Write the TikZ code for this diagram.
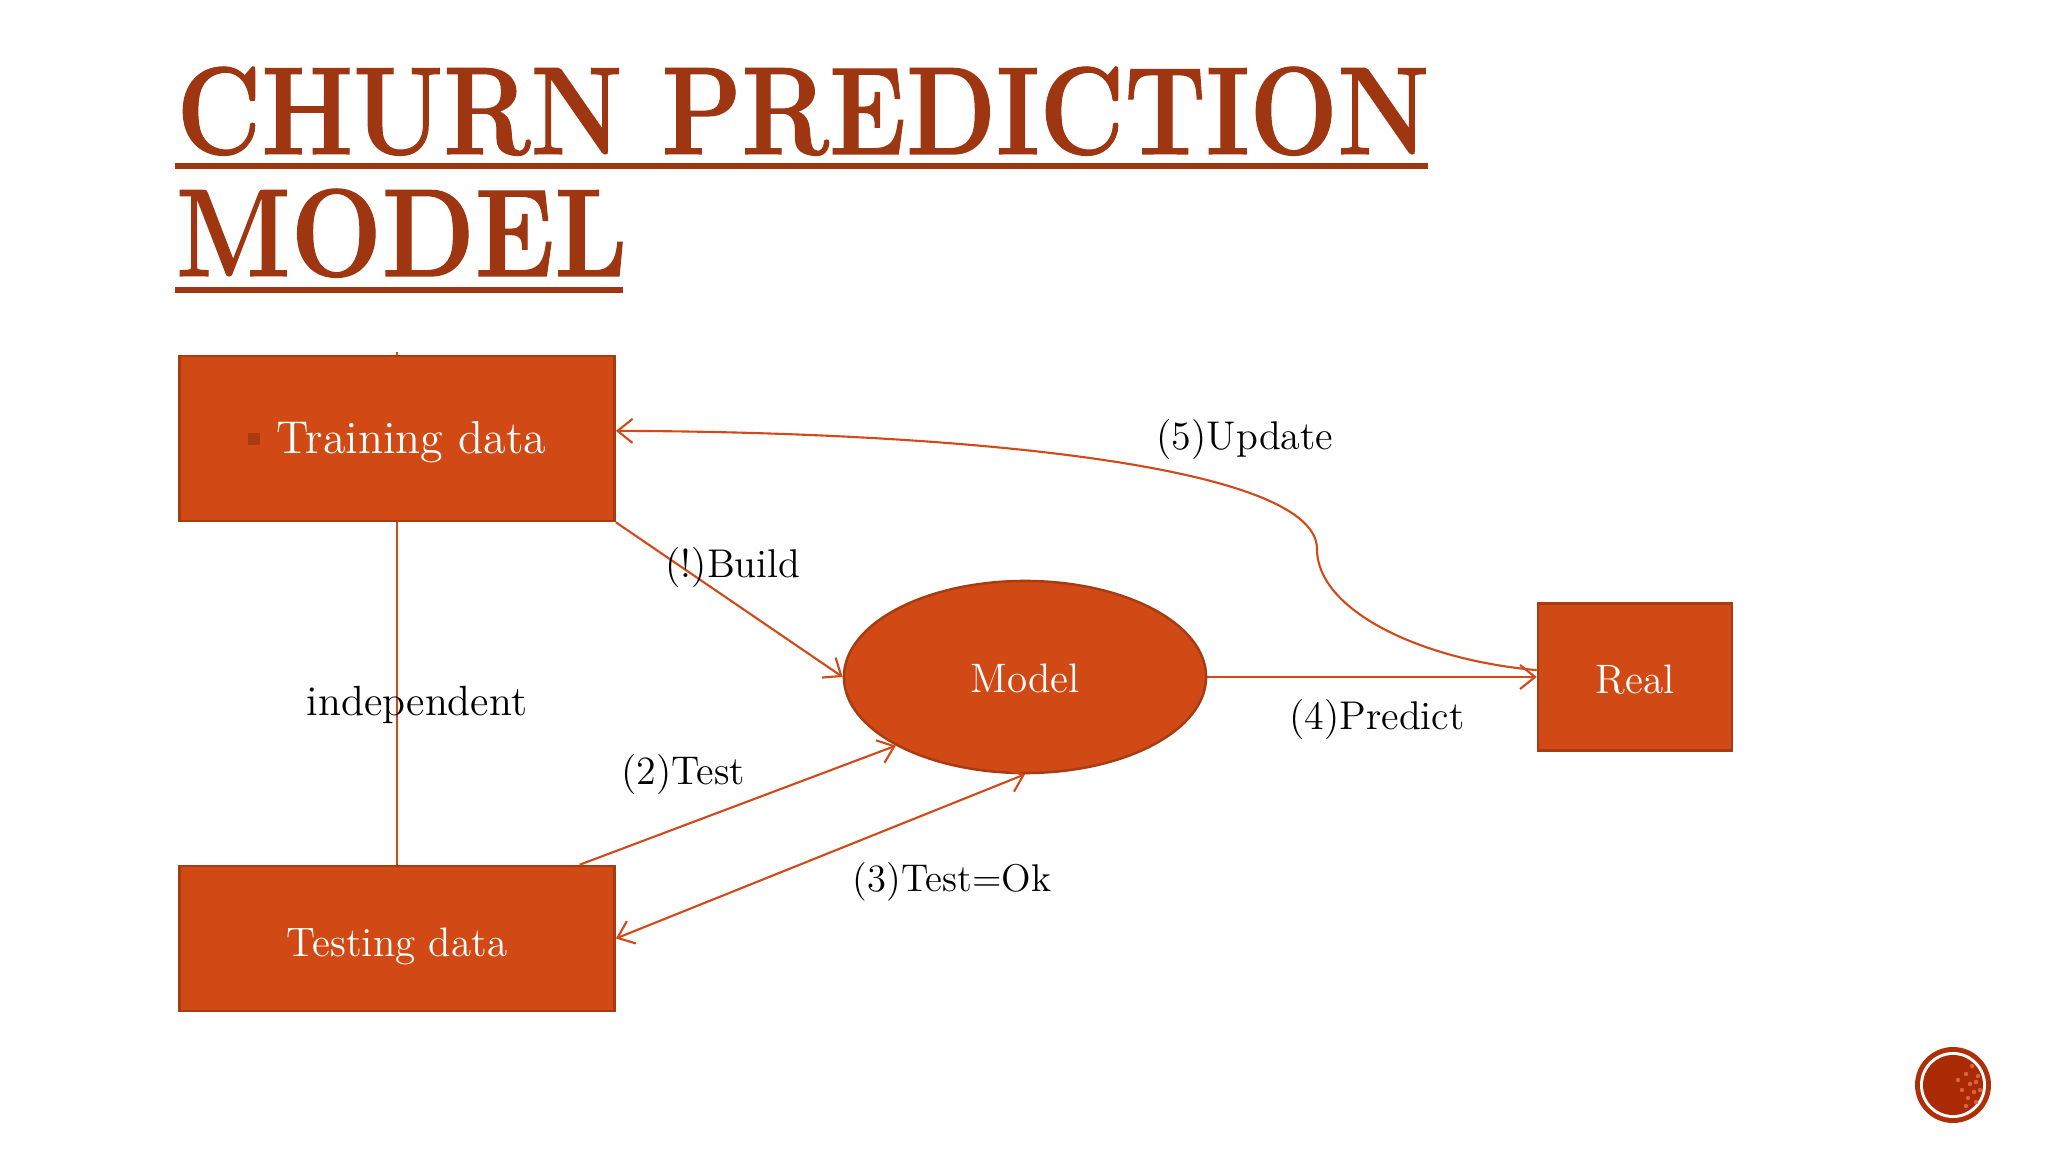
\documentclass[tikz,border=0pt]{standalone}
\usepackage{fontspec}
\newfontfamily\titlefont[BoldFeatures={FakeBold=1.0}]{Latin Modern Roman}
\usetikzlibrary{arrows.meta,backgrounds,shapes.geometric}
\definecolor{titlered}{HTML}{9E3711}
\definecolor{boxfill}{HTML}{D14A15}
\definecolor{boxline}{HTML}{A63C10}
\definecolor{linkred}{HTML}{D2491A}
\definecolor{badgered}{HTML}{A92A05}
\tikzset{
    databox/.style={draw=boxline,fill=boxfill,line width=0.7pt,text=white,inner sep=0pt,
        font=\fontsize{11.7}{14}\selectfont},
    link/.style={draw=linkred,line width=0.6pt},
    linkto/.style={link,-{Straight Barb[length=1.5mm,width=2.4mm,line width=0.6pt]}},
    linkboth/.style={link,{Straight Barb[length=1.5mm,width=2.4mm,line width=0.6pt]}-{Straight Barb[length=1.5mm,width=2.4mm,line width=0.6pt]}},
    linklabel/.style={text=black,inner sep=0pt,font=\fontsize{11.4}{14}\selectfont},
    titletext/.style={text=titlered,inner sep=0pt,anchor=base west,
        font=\fontsize{35.5}{40}\titlefont\bfseries},
    titlerule/.style={draw=titlered,line width=1.5pt}
}
\begin{document}
\begin{tikzpicture}[x=0.01cm,y=-0.01cm]
    \path[use as bounding box] (0,0) rectangle (2048,1152);

    % Title
    \node[titletext] (titleone) at (176,154) {\scalebox{0.835}[1]{CHURN PREDICTION}};
    \node[titletext] (titletwo) at (175,276) {\scalebox{0.864}[1]{MODEL}};
    \draw[titlerule] (175,166) -- (1428,166);
    \draw[titlerule] (175,290) -- (623,290);

    % Boxes
    \node[databox,text height=0.40cm,minimum width=4.35cm,minimum height=1.65cm] (training) at (397,438.5)
        {\fontsize{13.1}{15}\selectfont\textcolor{boxline}{\rule[0.09cm]{0.12cm}{0.12cm}}\hspace{0.17cm}Training data};
    \node[databox,text height=0.44cm,minimum width=4.35cm,minimum height=1.45cm] (testing) at (397,938.5) {Testing data};
    \node[databox,ellipse,text height=0.31cm,minimum width=3.62cm,minimum height=1.92cm] (model) at (1025,677) {Model};
    \node[databox,text height=0.33cm,minimum width=1.94cm,minimum height=1.47cm] (real) at (1635,677) {Real};

    % Links
    \begin{scope}[on background layer]
        \fill[white] (0,0) rectangle (2048,1152);
        \coordinate (tick) at (397,352);
        \draw[link] (tick) -- (testing.north);
    \end{scope}
    \coordinate (bend) at (1317,549);
    \draw[linkto] (training.south east) -- (model.west);
    \draw[linkto] (testing.22) -- (model.208.8);
    \draw[linkboth] (model.south) -- (testing.east);
    \draw[linkto] (model.east) -- (real.west);
    \draw[linkto] (real.176) .. controls (1420,660) and (1317,610) .. (bend)
        .. controls (1317,465) and (960,432) .. (training.2);

    % Labels
    \node[linklabel] (buildlabel) at (733,567) {(!)Build};
    \node[linklabel,font=\fontsize{12}{14}\selectfont] (indeplabel) at (417,705) {independent};
    \node[linklabel] (testlabel) at (683,774) {(2)Test};
    \node[linklabel,font=\fontsize{11}{14}\selectfont] (oklabel) at (952,882) {(3)Test=Ok};
    \node[linklabel] (predictlabel) at (1377,719) {(4)Predict};
    \node[linklabel] (updatelabel) at (1245,440) {(5)Update};

    % Badge
    \fill[badgered!85!linkred] (1953,1085) circle [radius=38];
    \fill[white] (1953,1085) circle [radius=33];
    \fill[badgered] (1953,1085) circle [radius=30];
    \foreach \dotx/\doty in {1966/1074,1972/1066,1978/1076,1962/1090,1970/1084,1980/1090,1968/1098,1976/1102,1958/1080,1974/1092,1966/1106,1976/1082}
        \fill[linkred!85!white] (\dotx,\doty) circle [radius=2.2];
\end{tikzpicture}
\end{document}
